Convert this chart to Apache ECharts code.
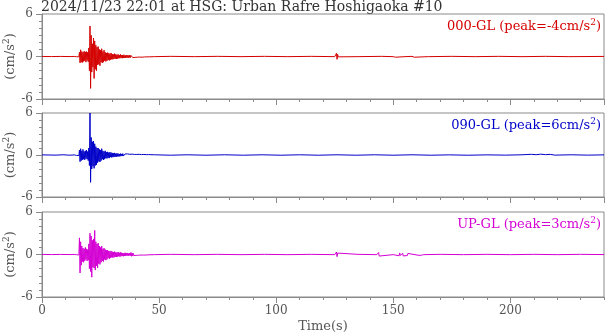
<!DOCTYPE html>
<html>
<head>
<meta charset="utf-8">
<script src="https://cdn.jsdelivr.net/npm/echarts@6/dist/echarts.min.js"></script>
<style>
html,body{margin:0;padding:0;background:#fff;}
#chart{width:605px;height:334px;}
</style>
</head>
<body>
<div id="chart"></div>
<script>
// ---- data ----
const titleText = '2024/11/23 22:01 at HSG: Urban Rafre Hoshigaoka #10';
const channelNames = ['000-GL', '090-GL', 'UP-GL'];
const peakValues = ['-4', '6', '3'];
const xTicks = [0, 50, 100, 150, 200];
const yTicks = [-6, 0, 6];

// dense strong-motion window: samples every 0.25 s starting at 14 s
const activeStart = 14;
const activeStep = 0.25;

const redActive = [
  0.03,-0.04,0.05,-0.03,0.04,-0.05,0.06,-0.04,
  0.6,-0.9,0.95,-0.8,0.7,-0.85,0.6,-0.7,0.75,-0.6,0.65,-0.8,0.7,-0.55,0.6,-0.75,
  1.2,-2.0,4.3,-4.5,3.0,-2.2,1.8,-1.5,
  2.6,-3.1,2.2,-1.8,1.6,-2.0,1.3,-1.2,
  1.4,-1.1,1.0,-1.3,0.9,-0.8,1.1,-0.9,
  0.7,-0.8,0.9,-0.6,0.6,-0.7,0.5,-0.6,
  0.55,-0.5,0.45,-0.55,0.4,-0.45,0.5,-0.4,
  0.35,-0.4,0.3,-0.35,0.4,-0.3,0.3,-0.35,
  0.25,-0.3,0.3,-0.25,0.2,-0.25,0.3,-0.2,
  0.2,-0.25,0.2,-0.2,0.25,-0.2,0.15,-0.2,
  0.2,-0.15,0.15,-0.2,0.15,-0.15,0.2,-0.15,
  0.15,-0.12,0.2,-0.15,0.12,-0.15,0.1,-0.12,
  0.12,-0.1,0.15,-0.1,0.1,-0.12,0.1,-0.08,
  0.1,-0.08,0.08,-0.1,0.08,-0.07,0.08,-0.06,
  0.06,-0.07,0.06,-0.05,0.06,-0.05,0.04,-0.05,
  0.04
];
const blueActive = [
  0.05,-0.08,0.1,-0.06,0.08,-0.1,0.12,-0.08,
  0.7,-0.95,0.9,-0.8,0.6,-0.7,0.8,-0.6,0.5,-0.7,0.6,-0.5,0.7,-0.6,0.5,-0.8,
  1.0,-1.5,6.0,-3.9,2.5,-2.0,1.9,-1.6,
  2.0,-1.9,1.6,-1.5,1.2,-1.4,1.0,-1.1,
  1.0,-0.9,0.8,-1.0,0.7,-0.8,0.9,-0.6,
  0.6,-0.7,0.5,-0.6,0.6,-0.45,0.4,-0.5,
  0.45,-0.4,0.35,-0.45,0.4,-0.3,0.35,-0.35,
  0.3,-0.3,0.25,-0.3,0.3,-0.25,0.2,-0.25,
  0.25,-0.2,0.2,-0.2,0.15,-0.2,0.2,-0.15,
  0.15,-0.15,0.2,-0.15,0.12,-0.15,0.15,-0.12,
  0.12,-0.1,0.15,-0.12,0.1,-0.12,0.1,-0.1,
  0.1,-0.1,0.12,-0.08,0.1,-0.1,0.08,-0.1,
  0.1,-0.08,0.08,-0.1,0.08,-0.08,0.1,-0.07,
  0.08,-0.07,0.06,-0.08,0.07,-0.06,0.08,-0.06,
  0.06,-0.07,0.05,-0.06,0.06,-0.05,0.06,-0.05,
  0.05
];
const magentaActive = [
  0.03,-0.05,0.04,-0.03,0.05,-0.04,0.05,-0.06,
  2.35,-2.6,1.8,-1.5,1.2,-1.0,0.9,-1.1,0.8,-0.9,1.0,-0.7,0.8,-0.9,0.7,-0.8,
  1.5,-2.0,3.0,-2.4,2.6,-3.2,2.0,-1.8,
  2.2,-1.9,3.4,-2.2,1.8,-1.6,1.5,-1.9,
  1.6,-1.3,1.2,-1.4,1.0,-1.1,1.2,-0.9,
  0.8,-1.0,0.9,-0.7,0.7,-0.8,0.6,-0.7,
  0.6,-0.5,0.5,-0.6,0.45,-0.5,0.5,-0.4,
  0.4,-0.45,0.35,-0.4,0.4,-0.35,0.3,-0.35,
  0.3,-0.3,0.35,-0.25,0.25,-0.3,0.3,-0.25,
  0.25,-0.2,0.2,-0.25,0.2,-0.2,0.25,-0.2,
  0.2,-0.15,0.2,-0.2,0.15,-0.15,0.2,-0.15,
  0.3,-0.25,0.2,-0.2,0.15,-0.15,0.12,-0.15,
  0.12,-0.12,0.1,-0.12,0.1,-0.1,0.12,-0.08,
  0.1,-0.08,0.08,-0.1,0.08,-0.08,0.15,-0.12,
  0.1,-0.08,0.06,-0.07,0.06,-0.05,0.06,-0.05,
  0.05
];

// quiet parts [time, value]
const redPre = [[0,0.01],[4,-0.01],[8,0.01],[12,-0.01],[13.75,0.01]];
const redPost = [[48,-0.02],[55,0.02],[65,-0.02],[75,0.02],[85,-0.02],[95,0.02],[105,-0.02],[115,0.02],[125,-0.02],[125.5,-0.3],[125.75,0.45],[126,-0.4],[126.25,0.3],[126.5,-0.05],[127,0.02],[135,-0.02],[145,0.02],[150,-0.02],[150.5,0.1],[151,-0.1],[151.5,0.02],[155,-0.02],[158,0.02],[158.5,0.1],[159,-0.1],[159.5,0.02],[165,-0.02],[175,0.02],[185,-0.02],[195,0.02],[205,-0.02],[215,0.02],[225,-0.02],[240,0.01]];
const bluePre = [[0,0.02],[6,-0.02],[9,0.03],[12,-0.03],[13.75,0.02]];
const bluePost = [[48,0.03],[55,-0.03],[62,0.03],[70,-0.03],[78,0.03],[86,-0.03],[94,0.03],[102,-0.03],[110,0.03],[118,-0.03],[126,0.03],[134,-0.03],[142,0.03],[150,-0.03],[158,0.03],[166,-0.03],[174,0.02],[182,-0.03],[190,0.02],[198,-0.02],[205,0.03],[209,0.1],[211,0.04],[213,0.12],[215,0.05],[217,0.09],[219,-0.02],[226,0.03],[233,-0.02],[240,0.02]];
const magentaPre = [[0,0.01],[4,-0.01],[8,0.01],[12,-0.01],[13.75,0.01]];
const magentaPost = [[48,-0.02],[55,0.02],[65,-0.02],[75,0.02],[85,-0.02],[95,0.02],[105,-0.02],[115,0.02],[125,-0.02],[125.5,-0.25],[125.75,0.35],[126,-0.3],[126.25,0.2],[127,-0.02],[135,0.02],[143,-0.02],[143.5,-0.2],[143.75,0.28],[144,-0.22],[144.5,0.02],[150,-0.02],[152.5,-0.18],[152.75,0.22],[153,-0.15],[153.5,0.02],[154,0.18],[154.25,-0.2],[154.75,0.02],[156,-0.15],[156.25,0.15],[156.75,-0.02],[161,-0.12],[161.5,0.14],[162,-0.1],[162.5,0.12],[163,-0.02],[170,0.02],[180,-0.02],[190,0.02],[200,-0.02],[210,0.02],[220,-0.02],[230,0.02],[240,-0.01]];

// ---- build ----
function trace(pre, active, post) {
  return pre.concat(active.map((v, i) => [activeStart + i * activeStep, v]), post);
}
const traces = [
  trace(redPre, redActive, redPost),
  trace(bluePre, blueActive, bluePost),
  trace(magentaPre, magentaActive, magentaPost)
];
const colors = ['#d40000', '#0000c8', '#d400d4'];
const FONT = 'DejaVu Serif';
const axisGray = '#8a8a8a';
const textGray = '#555';
const panelTops = [14, 113, 212];
const panelHeights = [85, 84, 85];

const grids = [], xAxes = [], yAxes = [], series = [], titles = [];
titles.push({
  text: titleText, left: 41, top: 0, padding: 0,
  textStyle: {fontFamily: FONT, fontSize: 14, fontWeight: 'normal', color: '#333', lineHeight: 14}
});
for (let i = 0; i < 3; i++) {
  grids.push({left: 42, top: panelTops[i], width: 562, height: panelHeights[i],
    containLabel: false, outerBoundsMode: 'none',
    show: true, borderColor: axisGray, borderWidth: 1, backgroundColor: 'transparent'});
  const last = i === 2;
  // minor x ticks
  xAxes.push({gridIndex: i, type: 'value', position: 'bottom', min: 0, max: 240, interval: 10,
    axisLine: {show: false, onZero: false}, axisTick: {show: true, length: 3, lineStyle: {color: axisGray}},
    axisLabel: {show: false}, splitLine: {show: false}});
  // major x ticks + labels
  xAxes.push({gridIndex: i, type: 'value', position: 'bottom', min: 0, max: 240, interval: 50,
    axisLine: {show: true, onZero: false, lineStyle: {color: axisGray}},
    axisTick: {show: true, length: 6, lineStyle: {color: axisGray}},
    axisLabel: {show: last, showMaxLabel: false, margin: 8, fontFamily: FONT, fontSize: 12, color: textGray,
      formatter: v => xTicks.includes(v) ? String(v) : ''},
    splitLine: {show: false},
    name: last ? 'Time(s)' : '', nameLocation: 'middle', nameGap: 23, nameMoveOverlap: false,
    nameTextStyle: {fontFamily: FONT, fontSize: 13, color: textGray}});
  // minor y ticks
  yAxes.push({gridIndex: i, type: 'value', position: 'left', min: -6, max: 6, interval: 1,
    axisLine: {show: false, onZero: false}, axisTick: {show: true, length: 3, lineStyle: {color: axisGray}},
    axisLabel: {show: false}, splitLine: {show: false}});
  // major y ticks + labels
  yAxes.push({gridIndex: i, type: 'value', position: 'left', min: -6, max: 6, interval: 6,
    axisLine: {show: true, onZero: false, lineStyle: {color: axisGray}},
    axisTick: {show: true, length: 6, lineStyle: {color: axisGray}},
    axisLabel: {margin: 9, fontFamily: FONT, fontSize: 12, color: textGray,
      formatter: v => yTicks.includes(v) ? String(v) : ''},
    splitLine: {show: false},
    name: '(cm/s{sup|2})', nameLocation: 'middle', nameRotate: 90, nameGap: 23, nameMoveOverlap: false,
    nameTextStyle: {fontFamily: FONT, fontSize: 13, color: textGray,
      rich: {sup: {fontFamily: FONT, fontSize: 9, color: textGray, padding: [0, 0, 8, 0]}}}});
  series.push({type: 'line', xAxisIndex: 2 * i + 1, yAxisIndex: 2 * i + 1, data: traces[i],
    showSymbol: false, symbol: 'none', sampling: null, silent: true,
    lineStyle: {color: colors[i], width: 1}});
  titles.push({
    text: channelNames[i] + ' (peak=' + peakValues[i] + 'cm/s{sup|2})',
    right: 4, top: panelTops[i] + 4, padding: 0,
    textStyle: {fontFamily: FONT, fontSize: 13, fontWeight: 'normal', color: colors[i],
      rich: {sup: {fontFamily: FONT, fontSize: 9, color: colors[i], padding: [0, 0, 8, 0]}}}
  });
}

const chart = echarts.init(document.getElementById('chart'), null, {renderer: 'canvas'});
chart.setOption({
  animation: false,
  backgroundColor: '#fff',
  title: titles,
  grid: grids,
  xAxis: xAxes,
  yAxis: yAxes,
  series: series
});
</script>
</body>
</html>
